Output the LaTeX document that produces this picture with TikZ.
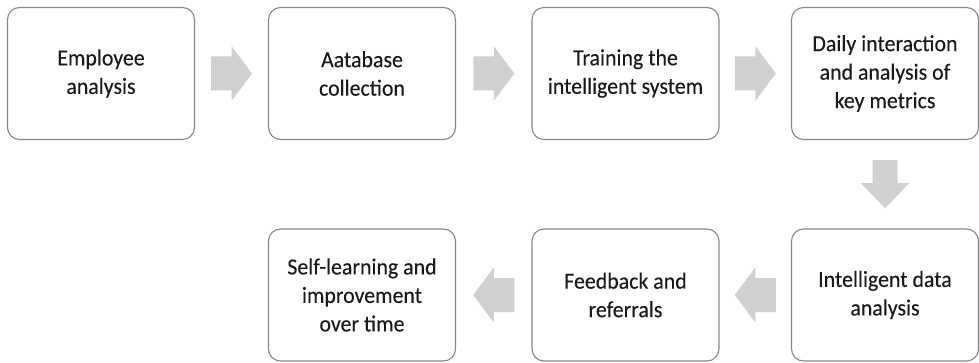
\documentclass[tikz,border=0pt]{standalone}
\usepackage{fontspec}
\setmainfont{Carlito}[FakeStretch=0.95,FakeBold=0.15]
\usetikzlibrary{calc}
\definecolor{boxgray}{RGB}{135,135,135}
\definecolor{arrowgray}{RGB}{208,208,208}
\definecolor{textgray}{RGB}{25,25,25}
\begin{document}
\begin{tikzpicture}[x=1pt,y=-1pt,
  stepbox/.style={draw=boxgray, line width=1.1pt, rounded corners=12pt,
    minimum width=187pt, minimum height=132pt, align=center, inner sep=0pt,
    text=textgray, font=\fontsize{23}{28.5}\selectfont},
  harrow/.pic={\fill[arrowgray] (-20.5,-17) -- (0,-17) -- (0,-27.5) -- (20.5,0)
      -- (0,27.5) -- (0,17) -- (-20.5,17) -- cycle;},
  varrow/.pic={\fill[arrowgray] (-12.5,-24) -- (12.5,-24) -- (12.5,-1) -- (24,-1)
      -- (0,24) -- (-24,-1) -- (-12.5,-1) -- cycle;}]
\useasboundingbox (0,0) rectangle (979,363);

% top row
\node[stepbox] (b1) at (101,73.5) {Employee\\analysis};
\node[stepbox] (b2) at (362,73.5) {Aatabase\\collection};
\node[stepbox] (b3) at (625.5,73.5) {Training the\\intelligent system};
\node[stepbox] (b4) at (885,73.5) {Daily interaction\\and analysis of\\key metrics};

% bottom row
\node[stepbox] (b5) at (885,295) {Intelligent data\\analysis};
\node[stepbox] (b6) at (625.5,295) {Feedback and\\referrals};
\node[stepbox] (b7) at (362,295) {Self-learning and\\improvement\\over time};

% block arrows between consecutive steps
\path ($(b1.east)!0.5!(b2.west)$) pic {harrow};
\path ($(b2.east)!0.5!(b3.west)$) pic {harrow};
\path ($(b3.east)!0.5!(b4.west)$) pic {harrow};
\path ($(b4.south)!0.5!(b5.north)$) pic {varrow};
\path ($(b5.west)!0.5!(b6.east)$) pic[rotate=180] {harrow};
\path ($(b6.west)!0.5!(b7.east)$) pic[rotate=180] {harrow};
\end{tikzpicture}
\end{document}
